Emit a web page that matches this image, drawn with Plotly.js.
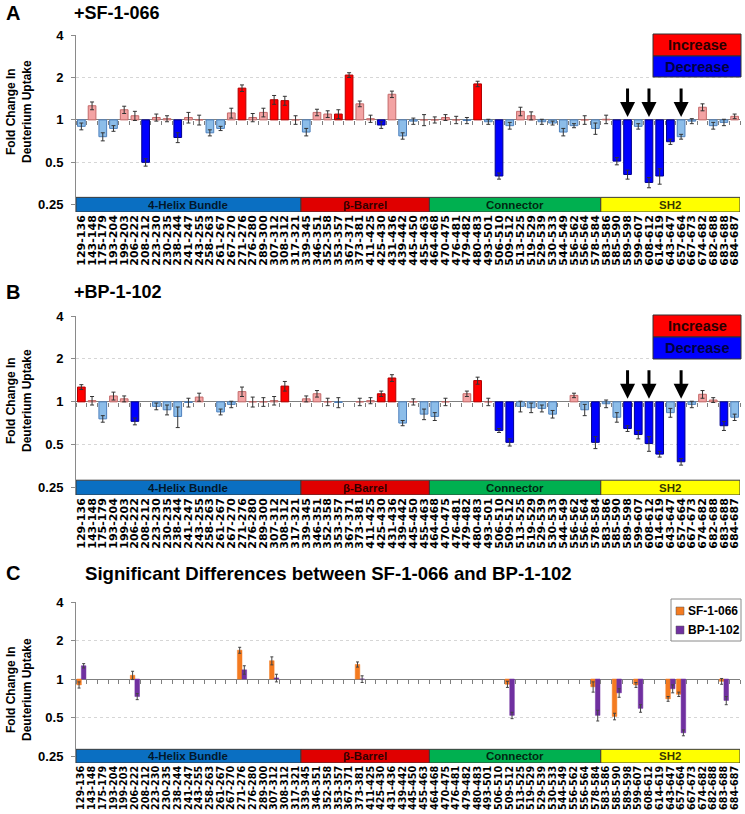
<!DOCTYPE html>
<html><head><meta charset="utf-8">
<script src="https://cdn.plot.ly/plotly-3.0.1.min.js"></script>
<style>html,body{margin:0;padding:0;background:#fff}#chart{width:745px;height:814px}</style>
</head><body><div id="chart"></div>
<script>
// ---------------- DATA ----------------
const peptides = ['129-136','143-148','175-179','193-204','199-203','206-222','208-212','223-230','230-235','238-244','241-247','243-255','258-263','261-267','267-270','271-276','276-280','289-300','307-312','308-312','317-321','339-345','346-351','352-358','353-357','367-371','373-381','411-425','425-430','431-436','439-442','445-450','455-463','464-468','470-475','476-481','479-482','480-483','493-501','506-510','509-512','513-525','519-529','529-539','530-533','544-549','556-562','556-564','578-584','583-586','585-590','589-598','599-607','608-612','614-619','643-647','657-664','667-673','674-682','682-688','683-688','684-687'];

// Panel A: +SF-1-066 fold change in deuterium uptake
const foldSF = [0.90,1.26,0.76,0.87,1.18,1.07,0.50,1.04,1.02,0.75, 1.04,1.00,0.81,0.87,1.12,1.68,1.04,1.13,1.39,1.37, 1.00,0.82,1.13,1.10,1.10,2.08,1.30,1.02,0.92,1.52, 0.77,0.98,1.00,1.00,1.04,1.00,0.99,1.80,0.97,0.40, 0.91,1.15,1.07,0.97,0.95,0.82,0.91,1.00,0.87,1.01, 0.51,0.41,0.90,0.36,0.40,0.70,0.76,0.98,1.23,0.91, 0.96,1.06];
const errSF = [0.05,0.08,0.05,0.04,0.07,0.08,0.03,0.06,0.05,0.06, 0.09,0.08,0.04,0.03,0.09,0.09,0.07,0.08,0.10,0.10, 0.07,0.05,0.06,0.06,0.08,0.08,0.06,0.06,0.05,0.08, 0.04,0.05,0.09,0.05,0.05,0.06,0.05,0.08,0.04,0.02, 0.05,0.08,0.07,0.04,0.03,0.05,0.03,0.07,0.08,0.07, 0.03,0.03,0.04,0.03,0.05,0.03,0.03,0.04,0.07,0.05, 0.05,0.04];
const sigSF = ['208-212','238-244','271-276','307-312','308-312','353-357','367-371','425-430','480-483','506-510','585-590','589-598','608-612','614-619','643-647'];

// Panel B: +BP-1-102
const foldBP = [1.27,1.02,0.76,1.10,1.05,0.73,null,0.93,0.88,0.79, 0.99,1.08,null,0.85,0.96,1.18,1.00,1.00,1.02,1.29, null,1.05,1.14,1.00,0.99,null,1.00,1.02,1.14,1.47, 0.71,1.00,0.82,0.79,1.00,null,1.14,1.41,1.00,0.63, 0.52,0.93,0.91,0.90,0.82,null,1.11,0.88,0.52,0.97, 0.78,0.65,0.59,0.51,0.43,0.84,0.38,0.96,1.13,1.03, 0.68,0.78];
const errBP = [0.05,0.07,0.04,0.07,0.05,0.04,null,0.05,0.07,0.13, 0.07,0.07,null,0.04,0.05,0.09,0.08,0.07,0.07,0.10, null,0.05,0.06,0.06,0.08,null,0.06,0.05,0.05,0.08, 0.03,0.05,0.07,0.05,0.06,null,0.05,0.08,0.06,0.02, 0.03,0.08,0.07,0.05,0.05,null,0.04,0.08,0.05,0.06, 0.06,0.03,0.04,0.06,0.02,0.06,0.02,0.05,0.07,0.04, 0.05,0.04];
const sigBP = ['129-136','206-222','308-312','425-430','431-436','480-483','506-510','509-512','578-584','589-598','599-607','608-612','614-619','657-664','683-688'];

// Panel C: peptides with significant differences between the two compounds
const diffPeptides = ['129-136','206-222','271-276','307-312','373-381','509-512','578-584','585-590','599-607','643-647','657-664','683-688'];
const seriesNames = ['SF-1-066','BP-1-102'];

const domainNames = ['4-Helix Bundle','\u03b2-Barrel','Connector','SH2'];
const domainFirst = ['129-136','339-345','464-468','583-586'];
const domainLast  = ['317-321','455-463','578-584','684-687'];
const arrowPeptides = ['589-598','608-612','657-664'];
const yTickVals = [0.25,0.5,1,2,4];
const yTickText = ['0.25','0.5','1','2','4'];

// ---------------- STYLE ----------------
const domainColors = ['#0a6fc2','#e00000','#00b050','#ffff00'];
const C_SIG_UP = '#ff0000', C_UP = '#f3a3a3', C_SIG_DN = '#0000ff', C_DN = '#8cbde9';
const L_SIG_UP = '#b00000', L_UP = '#c46a6a', L_SIG_DN = '#000090', L_DN = '#4f81bd';
const C_SF = '#f47b20', C_BP = '#7030a0';
const FONT = 'Liberation Sans, Arial, sans-serif';
const W = 745, H = 814, ML = 76, MR = 5;
const log2 = v => (v == null ? null : Math.log2(v));
const PX = x => (x - ML) / (W - ML - MR);   // page pixel -> paper x
const PY = y => 1 - y / H;                  // page pixel -> paper y

function errs(fold, err) {
  return {
    up: fold.map((v,i) => v == null ? 0 : Math.log2(v + err[i]) - Math.log2(v)),
    dn: fold.map((v,i) => v == null ? 0 : Math.log2(v) - Math.log2(Math.max(v - err[i], 1e-3)))
  };
}

function panelTrace(fold, err, sig, xa, ya) {
  const e = errs(fold, err);
  const isSig = i => sig.includes(peptides[i]);
  return {
    type:'bar', x: peptides, y: fold.map(log2), xaxis: xa, yaxis: ya,
    width: 0.72, showlegend:false, hoverinfo:'skip',
    marker:{
      color: fold.map((v,i) => v >= 1 ? (isSig(i) ? C_SIG_UP : C_UP) : (isSig(i) ? C_SIG_DN : C_DN)),
      line:{color: fold.map((v,i) => v >= 1 ? (isSig(i) ? L_SIG_UP : L_UP) : (isSig(i) ? L_SIG_DN : L_DN)), width: 1}
    },
    error_y:{type:'data', symmetric:false, array:e.up, arrayminus:e.dn, color:'#333', thickness:1, width:2}
  };
}

function diffTrace(name, fold, err, color, offset, xa, ya) {
  const idx = diffPeptides.map(p => peptides.indexOf(p));
  const f = idx.map(i => fold[i]);
  const e = errs(f, idx.map(i => err[i]));
  return {
    type:'bar', name: name, x: diffPeptides, y: f.map(log2), xaxis: xa, yaxis: ya,
    width: 0.43, offset: offset, hoverinfo:'skip', showlegend:false,
    marker:{color: color, line:{color: color, width: 0.5}},
    error_y:{type:'data', symmetric:false, array:e.up, arrayminus:e.dn, color:'#444', thickness:1, width:1.5}
  };
}

const data = [
  panelTrace(foldSF, errSF, sigSF, 'x', 'y'),
  panelTrace(foldBP, errBP, sigBP, 'x2', 'y2'),
  diffTrace(seriesNames[0], foldSF, errSF, C_SF, -0.43, 'x3', 'y3'),
  diffTrace(seriesNames[1], foldBP, errBP, C_BP, 0, 'x3', 'y3'),
  {type:'scatter', x:[], y:[], xaxis:'x4', yaxis:'y', showlegend:false, hoverinfo:'skip'},
  {type:'scatter', x:[], y:[], xaxis:'x5', yaxis:'y2', showlegend:false, hoverinfo:'skip'},
  {type:'scatter', x:[], y:[], xaxis:'x6', yaxis:'y3', showlegend:false, hoverinfo:'skip'}
];

// vertical geometry (pixels from top): top of plot (value 4), bottom of plot
const panels = [
  {top:35, bottom:212, range:[-2.17, 2], tickSize:11},
  {top:316, bottom:495, range:[-2.17, 2], tickSize:11},
  {top:602, bottom:763, range:[-2.18, 2], tickSize:9.6}
];
panels.forEach(p => { p.domain = [1 - p.bottom/H, 1 - p.top/H]; });

const xRange = [-0.5, peptides.length - 0.5];
function xAxis(anchor, p) {
  return {
    anchor: anchor, domain:[0,1], type:'category', categoryorder:'array', categoryarray: peptides,
    range: xRange, tickmode:'array', tickvals: peptides, ticktext: peptides,
    tickangle:-90, ticks:'', showgrid:false, zeroline:false, showline:false, automargin:false,
    tickfont:{family:'DejaVu Sans, sans-serif', size:p.tickSize, color:'#000', weight:'bold'}
  };
}
function yAxis(anchor, p) {
  return {
    anchor: anchor, domain: p.domain, range: p.range, tickmode:'array',
    tickvals: yTickVals.map(log2), ticktext: yTickText,
    ticks:'outside', ticklen:4, tickcolor:'#8a8a8a', ticklabelstandoff:5,
    showline:true, linecolor:'#8a8a8a', linewidth:1,
    showgrid:true, gridcolor:'#d6d6d6', griddash:'dot', gridwidth:1,
    zeroline:true, zerolinecolor:'#7f7f7f', zerolinewidth:1, automargin:false,
    tickfont:{family:FONT, size:13, color:'#000', weight:'bold'}
  };
}
const boundaries = [];
for (let i = 0; i <= peptides.length; i++) boundaries.push(i - 0.5);
function tickAxis(over, p) {
  const pos = p.domain[0] + (0 - p.range[0]) / (p.range[1] - p.range[0]) * (p.domain[1] - p.domain[0]);
  return {
    overlaying: over, anchor:'free', position: pos, range: xRange, type:'linear',
    tickmode:'array', tickvals: boundaries, ticks:'outside', ticklen:4, tickcolor:'#7f7f7f',
    showticklabels:false, showgrid:false, zeroline:false, showline:false
  };
}

const shapes = [];
const annotations = [];
const bandHalf = 0.175;
const bandCenter = log2(0.25);
['x','x2','x3'].forEach((xa, k) => {
  const ya = ['y','y2','y3'][k];
  domainNames.forEach((name, d) => {
    const a = peptides.indexOf(domainFirst[d]), b = peptides.indexOf(domainLast[d]);
    shapes.push({type:'rect', xref:xa, yref:ya, x0:a - 0.5, x1:b + 0.5,
      y0: panels[k].range[0], y1: bandCenter + bandHalf,
      fillcolor: domainColors[d], line:{color:'#3a3a3a', width:1}, layer:'above'});
    annotations.push({xref:xa, yref:ya, x:(a + b) / 2, y: bandCenter - 0.01, xanchor:'center', yanchor:'middle',
      text:name, showarrow:false,
      font:{family:FONT, size:11.5, color:'rgba(0,0,0,0.8)', weight:'bold'}});
  });
});

// Increase / Decrease key boxes for panels A and B
[[34,56,77],[315,337,359]].forEach(r => {
  shapes.push({type:'rect', xref:'paper', yref:'paper', x0:PX(653), x1:PX(741), y0:PY(r[1]), y1:PY(r[0]),
    fillcolor:'#ff0000', line:{color:'#333', width:1}});
  shapes.push({type:'rect', xref:'paper', yref:'paper', x0:PX(653), x1:PX(741), y0:PY(r[2]), y1:PY(r[1]),
    fillcolor:'#0000ff', line:{color:'#333', width:1}});
  annotations.push({xref:'paper', yref:'paper', x:PX(697), y:PY((r[0] + r[1]) / 2), xanchor:'center', yanchor:'middle',
    text:'Increase', showarrow:false, font:{family:FONT, size:14.5, color:'#2a0000', weight:'bold'}});
  annotations.push({xref:'paper', yref:'paper', x:PX(697), y:PY((r[1] + r[2]) / 2), xanchor:'center', yanchor:'middle',
    text:'Decrease', showarrow:false, font:{family:FONT, size:14.5, color:'#000040', weight:'bold'}});
});

// legend of panel C
shapes.push({type:'rect', xref:'paper', yref:'paper', x0:PX(671), x1:PX(741), y0:PY(641), y1:PY(599),
  fillcolor:'#fff', line:{color:'#8a8a8a', width:1}});
[[C_SF, 611],[C_BP, 630]].forEach((it, j) => {
  shapes.push({type:'rect', xref:'paper', yref:'paper', x0:PX(676), x1:PX(684), y0:PY(it[1] + 4), y1:PY(it[1] - 4),
    fillcolor:it[0], line:{color:'#555', width:0.5}});
  annotations.push({xref:'paper', yref:'paper', x:PX(686), y:PY(it[1]), xanchor:'left', yanchor:'middle',
    text:seriesNames[j], showarrow:false, font:{family:FONT, size:12, color:'#000', weight:'bold'}});
});

// arrows over the SH2 peptides
['x','x2'].forEach((xa, k) => {
  const ya = ['y','y2'][k];
  arrowPeptides.forEach(p => {
    annotations.push({xref:xa, yref:ya, x:p, y:0, ax:0, ay:-33, text:'', showarrow:true,
      arrowhead:2, arrowsize:1, arrowwidth:3, arrowcolor:'#000', standoff:3});
  });
});

// panel letters and titles
const titles = [
  {letter:'A', title:'+SF-1-066', y:13, tx:72, size:18},
  {letter:'B', title:'+BP-1-102', y:292, tx:72, size:18},
  {letter:'C', title:'Significant Differences between SF-1-066 and BP-1-102', y:573, tx:83, size:18.6}
];
titles.forEach(t => {
  annotations.push({xref:'paper', yref:'paper', x:PX(4), y:PY(t.y), xanchor:'left', yanchor:'middle',
    text:t.letter, showarrow:false, font:{family:FONT, size:20, color:'#000', weight:'bold'}});
  annotations.push({xref:'paper', yref:'paper', x:PX(t.tx), y:PY(t.y), xanchor:'left', yanchor:'middle',
    text:t.title, showarrow:false, font:{family:FONT, size:t.size, color:'#000', weight:'bold'}});
});
[112, 401, 690].forEach(yc => {
  annotations.push({xref:'paper', yref:'paper', x:PX(19), y:PY(yc), xanchor:'center', yanchor:'middle',
    textangle:-90, text:'Fold Change In<br>Deuterium Uptake', showarrow:false,
    font:{family:FONT, size:12, color:'#000', weight:'bold'}});
});

const layout = {
  width: W, height: H, margin:{l:ML, r:MR, t:0, b:0},
  paper_bgcolor:'#fff', plot_bgcolor:'#fff',
  font:{family:FONT, color:'#000'},
  barmode:'overlay', showlegend:false,
  xaxis: xAxis('y', panels[0]), xaxis2: xAxis('y2', panels[1]), xaxis3: xAxis('y3', panels[2]),
  yaxis: yAxis('x', panels[0]), yaxis2: yAxis('x2', panels[1]), yaxis3: yAxis('x3', panels[2]),
  xaxis4: tickAxis('x', panels[0]), xaxis5: tickAxis('x2', panels[1]), xaxis6: tickAxis('x3', panels[2]),
  shapes: shapes, annotations: annotations
};

Plotly.newPlot('chart', data, layout, {staticPlot:true, displayModeBar:false});
</script>
</body></html>
